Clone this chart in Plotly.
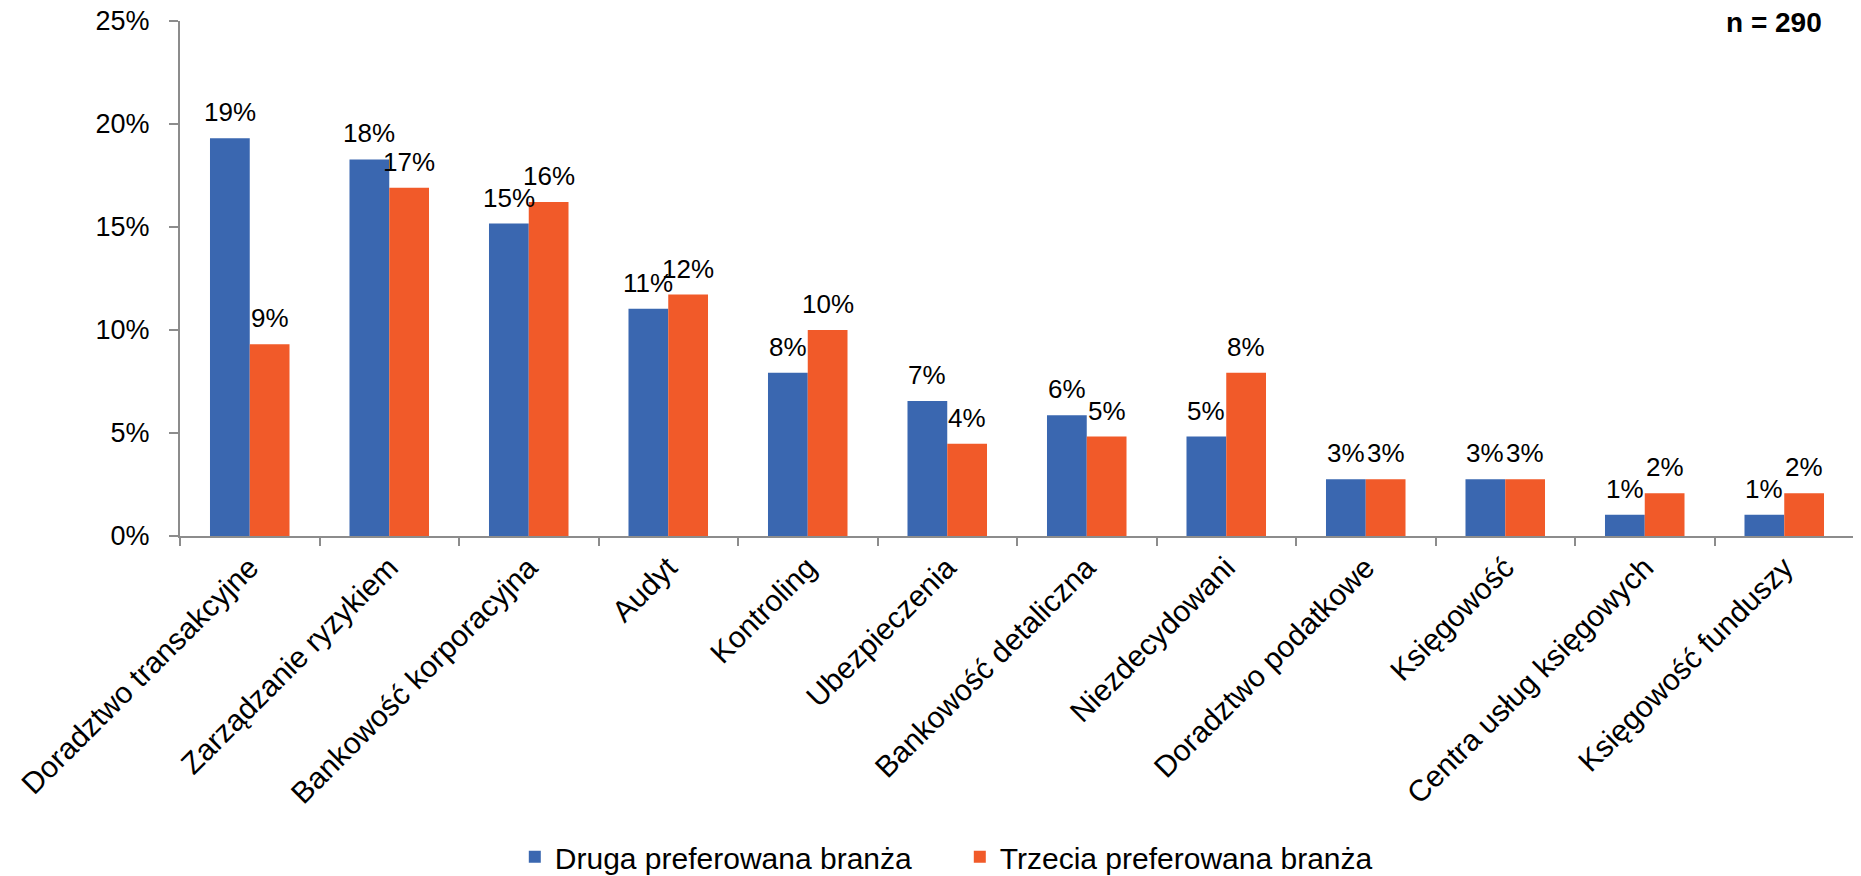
import plotly.graph_objects as go

# Data (share of respondents, n = 290)
categories = ["Doradztwo transakcyjne", "Zarządzanie ryzykiem", "Bankowość korporacyjna",
              "Audyt", "Kontroling", "Ubezpieczenia", "Bankowość detaliczna",
              "Niezdecydowani", "Doradztwo podatkowe", "Księgowość",
              "Centra usług księgowych", "Księgowość funduszy"]
druga = [19.31, 18.28, 15.17, 11.03, 7.93, 6.55, 5.86, 4.83, 2.76, 2.76, 1.03, 1.03]
trzecia = [9.31, 16.90, 16.21, 11.72, 10.00, 4.48, 4.83, 7.93, 2.76, 2.76, 2.07, 2.07]
series_names = ["Druga preferowana branża", "Trzecia preferowana branża"]
y_ticks = [0, 5, 10, 15, 20, 25]

BLUE = "#3A67B0"
ORANGE = "#F15A29"
FONT = "Liberation Sans"

fig = go.Figure()
fig.add_trace(go.Bar(x=categories, y=druga, name=series_names[0],
                     marker=dict(color=BLUE, line=dict(width=0))))
fig.add_trace(go.Bar(x=categories, y=trzecia, name=series_names[1],
                     marker=dict(color=ORANGE, line=dict(width=0))))

# data labels above each bar
for vals, shift in [(druga, -20), (trzecia, 20)]:
    for cat, v in zip(categories, vals):
        fig.add_annotation(x=cat, y=v, text=f"{round(v):d}%", showarrow=False,
                           xshift=shift, yshift=9, yanchor="bottom",
                           font=dict(family=FONT, size=26, color="black"))

fig.add_annotation(x=0.982, y=0.998, xref="paper", yref="paper", text="<b>n = 290</b>",
                   showarrow=False, xanchor="right", yanchor="middle",
                   font=dict(family=FONT, size=28, color="black"))

# page body adds an 8px margin, so the figure is 8px smaller than the window
fig.update_layout(
    width=1853, height=868,
    margin=dict(l=172, r=7, t=13, b=340, autoexpand=False),
    plot_bgcolor="white", paper_bgcolor="white",
    barmode="group", bargap=0.43, bargroupgap=0,
    font=dict(family=FONT, size=26, color="black"),
    legend=dict(orientation="h", x=0.2, xanchor="left", y=-0.623, yanchor="middle",
                font=dict(family=FONT, size=30),
                entrywidth=400, entrywidthmode="pixels", itemwidth=30),
    showlegend=True,
)
fig.update_xaxes(showline=True, linecolor="#8C8C8C", linewidth=2, ticks="outside",
                 tickson="boundaries", ticklen=8, tickcolor="#8C8C8C", tickwidth=2,
                 tickangle=-45, showgrid=False, tickfont=dict(size=30), automargin=False,
                 ticklabeloverflow="allow")
fig.update_yaxes(range=[0, 25], tickvals=y_ticks, ticktext=[f"{v}%" for v in y_ticks],
                 showline=True, linecolor="#8C8C8C", linewidth=2, ticks="outside",
                 ticklen=9, tickcolor="#8C8C8C", tickwidth=2, showgrid=False,
                 zeroline=False, ticklabelstandoff=14, tickfont=dict(size=27),
                 automargin=False, ticklabeloverflow="allow")

fig.write_html("out.html")
